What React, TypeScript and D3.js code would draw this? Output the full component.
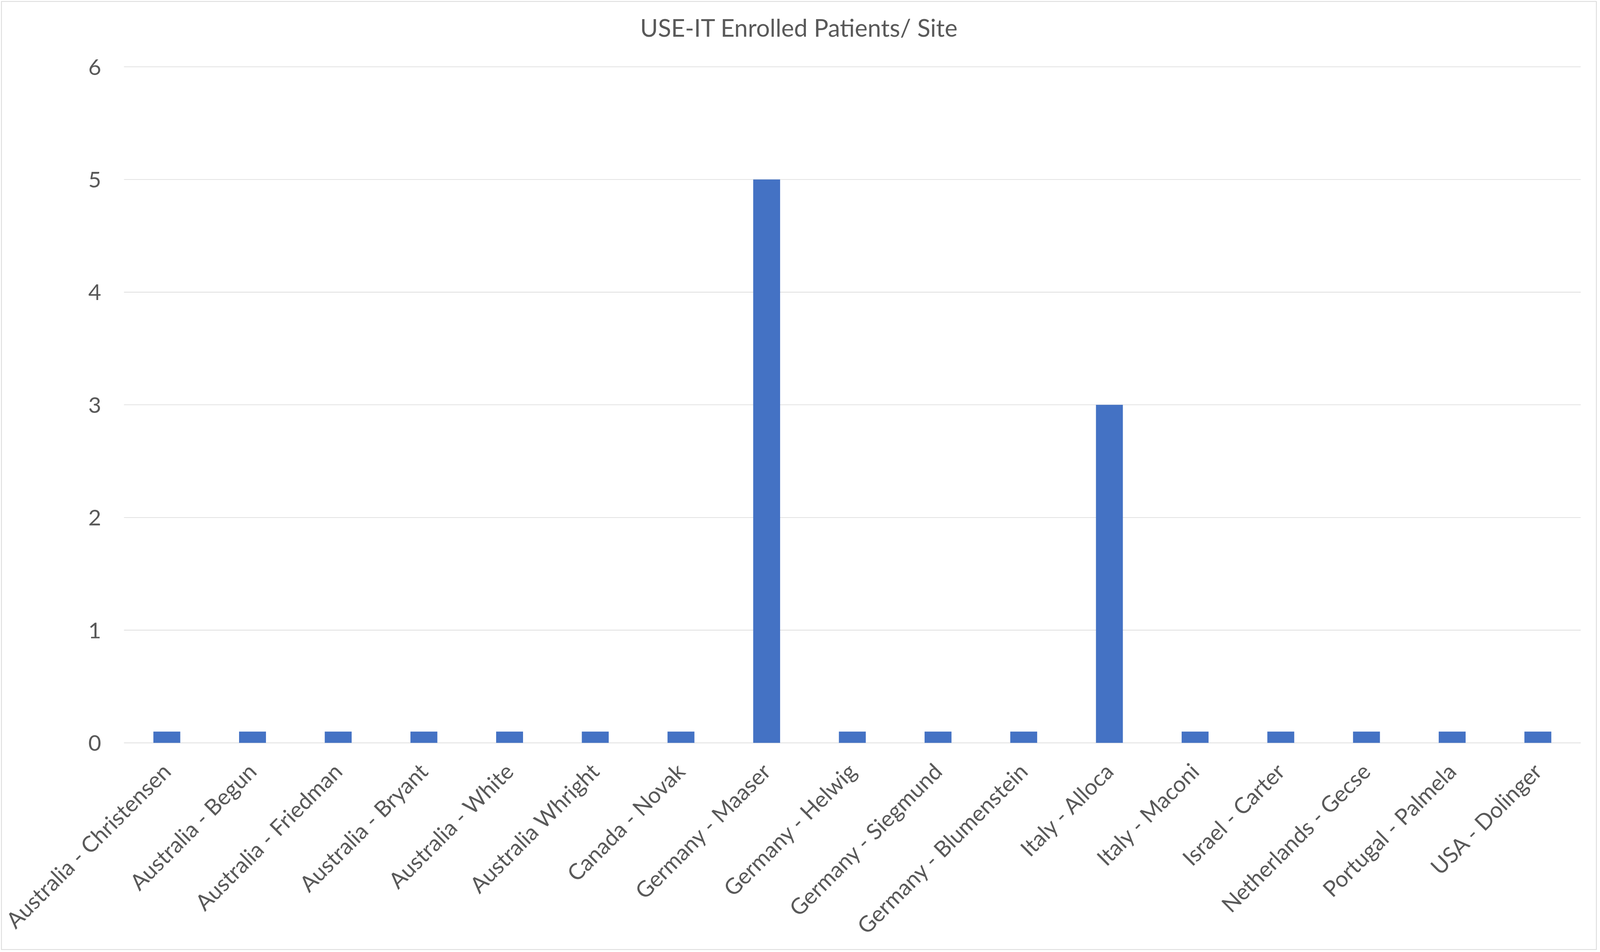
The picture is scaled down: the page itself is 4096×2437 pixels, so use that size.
import React from "react";
import * as d3 from "d3";

const categories: string[] = [
  "Australia - Christensen",
  "Australia - Begun",
  "Australia - Friedman",
  "Australia - Bryant",
  "Australia - White",
  "Australia Whright",
  "Canada - Novak",
  "Germany - Maaser",
  "Germany - Helwig",
  "Germany - Siegmund",
  "Germany - Blumenstein",
  "Italy - Alloca",
  "Italy - Maconi",
  "Israel - Carter",
  "Netherlands - Gecse",
  "Portugal - Palmela",
  "USA - Dolinger",
];

const values: number[] = [0.1, 0.1, 0.1, 0.1, 0.1, 0.1, 0.1, 5, 0.1, 0.1, 0.1, 3, 0.1, 0.1, 0.1, 0.1, 0.1];

const yTicks: number[] = [0, 1, 2, 3, 4, 5, 6];

const title = "USE-IT Enrolled Patients/ Site";

const W = 4096;
const H = 2437;
const FONT = "Lato, 'Open Sans', sans-serif";
const TEXT = "#595959";
const GRID = "#d9d9d9";
const BAR = "#4472c4";

const plotLeft = 317.4;
const plotRight = 4046.6;
const plotTop = 171.0;
const plotBottom = 1901.6;

export default function App() {
  const x = d3
    .scaleBand<string>()
    .domain(categories)
    .range([plotLeft, plotRight])
    .paddingInner(0.686)
    .paddingOuter(0.343);
  const y = d3.scaleLinear().domain([0, 6]).range([plotBottom, plotTop]);

  return (
    <>
      <style>{`body{margin:0;}`}</style>
      <svg width={W} height={H} style={{ display: "block" }} fontFamily={FONT}>
        <rect x={0} y={0} width={W} height={H} fill="#ffffff" />
        <rect x={3.7} y={3.7} width={4083} height={2427} fill="none" stroke={GRID} strokeWidth={2} />
        <text x={2045} y={94} textAnchor="middle" fontSize={62} fill={TEXT}>
          {title}
        </text>
        {yTicks.map((t) => (
          <g key={t}>
            <line x1={plotLeft} x2={plotRight} y1={y(t)} y2={y(t)} stroke={GRID} strokeWidth={1.6} />
            <text x={259} y={y(t)} dy="0.36em" textAnchor="end" fontSize={57} fill={TEXT}>
              {t}
            </text>
          </g>
        ))}
        {categories.map((c, i) => (
          <rect key={c} x={x(c)} y={y(values[i])} width={x.bandwidth()} height={y(0) - y(values[i])} fill={BAR} />
        ))}
        {categories.map((c) => {
          const cx = (x(c) as number) + x.bandwidth() / 2;
          return (
            <text
              key={c}
              transform={`translate(${cx},1965) rotate(-45)`}
              textAnchor="end"
              dy="0.35em"
              fontSize={57}
              fill={TEXT}
            >
              {c}
            </text>
          );
        })}
      </svg>
    </>
  );
}
